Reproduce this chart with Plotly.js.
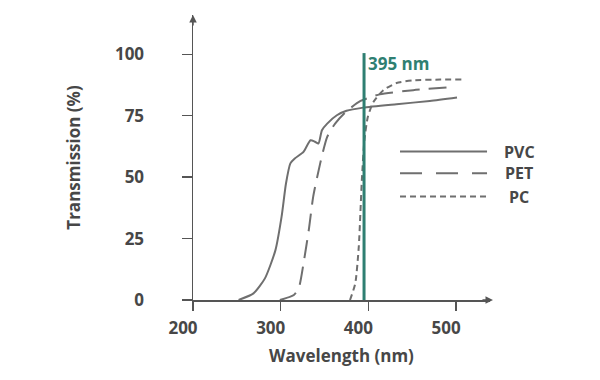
<!DOCTYPE html>
<html>
<head>
<meta charset="utf-8">
<script src="https://cdn.plot.ly/plotly-3.0.1.min.js"></script>
<style>html,body{margin:0;padding:0;background:#fff}#chart{width:600px;height:380px}</style>
</head>
<body>
<div id="chart"></div>
<script>
// Data
const seriesNames = ["PVC", "PET", "PC"];
const pvcX = [252, 269, 282, 294, 301, 306, 311, 316, 326, 334, 339, 343, 347, 353, 364, 375, 394, 432, 470, 501];
const pvcY = [0, 2.7, 8.8, 20.3, 33.9, 47.4, 55.6, 57.6, 60.3, 65, 64.4, 63.7, 69.1, 71.8, 75.2, 77, 78.3, 79.7, 81, 82.4];
const petX = [299, 315, 321, 326, 332, 337, 345, 353, 362, 374, 391, 413, 451, 489];
const petY = [0, 2, 5.4, 14.9, 28.5, 42, 55.6, 66.4, 71.8, 76.5, 81, 83.7, 85.4, 86.5];
const pcX = [379, 385, 389, 392.5, 395.4, 399.3, 405.7, 417, 432, 451, 482, 506];
const pcY = [0, 6.8, 21.7, 48.8, 65, 74.5, 80.6, 85.4, 88.3, 89.4, 89.7, 89.7];
const markerX = [395, 395];
const markerY = [0, 100.5];
const markerLabel = "395 nm";
const xTicks = [200, 300, 400, 500];
const yTicks = [0, 25, 50, 75, 100];

const grey = "#6f6f6f";
const teal = "#2f7f72";
const textCol = "#474747";
const fontFam = "'Open Sans', Lato, sans-serif";
const dashes = ["solid", "22px,14px", "6px,4px"];
const curveDashes = ["solid", "18px,9px", "6px,4px"];

const traces = [
  {x: pvcX, y: pvcY, mode: "lines", line: {color: grey, width: 2, dash: curveDashes[0], shape: "spline", smoothing: 0.6}, name: seriesNames[0]},
  {x: petX, y: petY, mode: "lines", line: {color: grey, width: 2, dash: curveDashes[1], shape: "spline", smoothing: 0.6}, name: seriesNames[1]},
  {x: pcX, y: pcY, mode: "lines", line: {color: grey, width: 2, dash: curveDashes[2], shape: "spline", smoothing: 0.6}, name: seriesNames[2]},
  {x: markerX, y: markerY, mode: "lines", line: {color: teal, width: 3}, name: markerLabel}
];

const legendRowsY = [0.521, 0.445, 0.363];
const shapes = [];
const annotations = [];
seriesNames.forEach((n, i) => {
  shapes.push({type: "line", xref: "paper", yref: "paper", x0: 0.697, x1: 0.99, y0: legendRowsY[i], y1: legendRowsY[i],
    line: {color: grey, width: 2, dash: dashes[i]}});
  annotations.push({xref: "paper", yref: "paper", x: 1.098, y: legendRowsY[i], text: n, showarrow: false, borderpad: 0,
    xanchor: "center", yanchor: "middle", font: {family: fontFam, size: 16, color: textCol, weight: 700}});
});
annotations.push({x: markerX[0], y: 96.3, xref: "x", yref: "y", text: markerLabel, showarrow: false,
  xanchor: "left", yanchor: "middle", xshift: 2, font: {family: fontFam, size: 17, color: teal, weight: 700}});
// axis arrowheads
annotations.push({xref: "paper", yref: "paper", x: 1.01, y: 0, ax: -12, ay: 0, text: "", showarrow: true,
  arrowhead: 2, arrowsize: 1, arrowwidth: 1.5, arrowcolor: "#555"});
annotations.push({xref: "paper", yref: "paper", x: 0, y: 1.0, ax: 0, ay: 12, text: "", showarrow: true,
  arrowhead: 2, arrowsize: 1, arrowwidth: 1.5, arrowcolor: "#555"});

const tickFont = {family: fontFam, size: 17, color: textCol, weight: 700};
const layout = {
  width: 600, height: 380,
  margin: {l: 192.7, r: 110, t: 15, b: 80},
  paper_bgcolor: "#fff", plot_bgcolor: "#fff",
  showlegend: false,
  font: {family: fontFam, color: textCol},
  xaxis: {
    range: [200, 538.6], tickvals: xTicks, ticktext: xTicks.map(String),
    showgrid: false, zeroline: false, showline: true, linecolor: "#555", linewidth: 1.5,
    ticks: "outside", ticklen: 9, tickwidth: 1.5, tickcolor: "#555",
    ticklabelshift: -10, ticklabelstandoff: 3,
    tickfont: tickFont,
    title: {text: "Wavelength (nm)", standoff: 12, font: {family: fontFam, size: 17, color: textCol, weight: 700}}
  },
  yaxis: {
    range: [0, 116], tickvals: yTicks, ticktext: yTicks.map(String),
    showgrid: false, zeroline: false, showline: true, linecolor: "#555", linewidth: 1.5,
    ticks: "outside", ticklen: 10, tickwidth: 1.5, tickcolor: "#555",
    ticklabelstandoff: 34,
    tickfont: tickFont,
    title: {text: "Transmission (%)", standoff: 30, font: {family: fontFam, size: 17, color: textCol, weight: 700}}
  },
  shapes: shapes,
  annotations: annotations
};

Plotly.newPlot("chart", traces, layout, {displayModeBar: false, staticPlot: true});
</script>
</body>
</html>
